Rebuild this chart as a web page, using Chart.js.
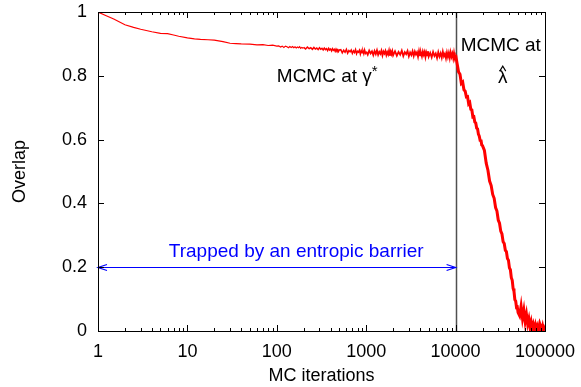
<!DOCTYPE html>
<html>
<head>
<meta charset="utf-8">
<script src="https://cdn.jsdelivr.net/npm/chart.js@4.4.0/dist/chart.umd.min.js"></script>
<style>
  html, body { margin: 0; padding: 0; background: #fff; }
  #wrap { width: 581px; height: 387px; }
</style>
</head>
<body>
<div id="wrap"><canvas id="overlapChart" width="581" height="387"></canvas></div>
<script>
// MC iteration at which each overlap value was read
const iterations = [
  1, 1.2, 1.5, 2, 2.5, 3, 4, 5, 6, 7, 8, 10, 12, 14, 17, 20, 25, 30, 35, 40, 50, 60, 70, 80, 90, 100,
  105, 110, 115, 120, 125, 130, 135, 140, 145, 150, 155, 160, 165, 170, 175, 180, 185, 190, 195, 200,
  210, 220, 230, 240, 250, 260, 270, 280, 290, 300, 310, 320, 330, 340, 350,
  360, 370, 380, 390, 400, 410, 420, 430, 440, 450, 460, 470, 480, 490, 500,
  520, 540, 560, 580, 600, 620, 640, 660, 680, 700, 720, 740, 760, 780, 800,
  820, 840, 860, 880, 900, 920, 940, 960, 980, 1000,
  1040, 1080, 1120, 1160, 1200, 1240, 1280, 1320, 1360, 1400, 1440, 1480, 1520,
  1560, 1600, 1640, 1680, 1720, 1760, 1800, 1840, 1880, 1920, 1960, 2000,
  2100, 2200, 2300, 2400, 2500, 2600, 2700, 2800, 2900, 3000, 3100, 3200, 3300, 3400, 3500,
  3600, 3700, 3800, 3900, 4000, 4100, 4200, 4300, 4400, 4500, 4600, 4700, 4800, 4900, 5000,
  5200, 5400, 5600, 5800, 6000, 6200, 6400, 6600, 6800, 7000, 7200, 7400, 7600,
  7800, 8000, 8200, 8400, 8600, 8800, 9000, 9200, 9400, 9600, 9800, 10000,
  10400, 10800, 11200, 11600, 12000, 12400, 12800, 13200, 13600, 14000, 14400, 14800, 15200,
  15600, 16000, 16400, 16800, 17200, 17600, 18000, 18400, 18800, 19200, 19600, 20000,
  21000, 22000, 23000, 24000, 25000, 26000, 27000, 28000, 29000, 30000, 31000, 32000, 33000, 34000, 35000,
  36000, 37000, 38000, 39000, 40000, 41000, 42000, 43000, 44000, 45000, 46000, 47000, 48000, 49000, 50000,
  52000, 54000, 56000, 58000, 60000, 62000, 64000, 66000, 68000, 70000, 72000, 74000, 76000,
  78000, 80000, 82000, 84000, 86000, 88000, 90000, 92000, 94000, 96000, 98000, 100000
];

const overlap = [
  1.0, 0.990, 0.978, 0.960, 0.952, 0.946, 0.938, 0.933, 0.932, 0.928, 0.924, 0.919, 0.916,
  0.914, 0.913, 0.912, 0.907, 0.902, 0.901, 0.900, 0.899, 0.897, 0.898, 0.895, 0.896, 0.893,
  0.894, 0.890, 0.893, 0.889, 0.893, 0.891, 0.888, 0.892, 0.889, 0.892,
  0.888, 0.891, 0.887, 0.890, 0.888, 0.891, 0.886, 0.889, 0.887, 0.889,
  0.884, 0.890, 0.885, 0.888, 0.883, 0.889, 0.884, 0.887, 0.882, 0.888, 0.883, 0.886, 0.881, 0.887, 0.882,
  0.885, 0.879, 0.886, 0.881, 0.884, 0.878, 0.885, 0.880, 0.883, 0.877, 0.884, 0.879, 0.882, 0.876, 0.881,
  0.882, 0.872, 0.880, 0.874, 0.883, 0.871, 0.879, 0.875, 0.881, 0.870, 0.878, 0.873, 0.882,
  0.869, 0.877, 0.874, 0.880, 0.868, 0.879, 0.872, 0.878, 0.869, 0.881, 0.871, 0.876,
  0.866, 0.879, 0.870, 0.877, 0.865, 0.878, 0.868, 0.880, 0.866, 0.875, 0.869, 0.879, 0.864,
  0.876, 0.870, 0.878, 0.865, 0.874, 0.867, 0.879, 0.863, 0.876, 0.868, 0.877, 0.864,
  0.877, 0.863, 0.875, 0.866, 0.879, 0.862, 0.874, 0.868, 0.878, 0.861, 0.873, 0.865, 0.877, 0.862, 0.876,
  0.867, 0.874, 0.860, 0.878, 0.864, 0.872, 0.861, 0.876, 0.866, 0.875, 0.859, 0.873, 0.864, 0.877, 0.860,
  0.872, 0.858, 0.875, 0.862, 0.870, 0.856, 0.874, 0.860, 0.871, 0.857, 0.876, 0.861, 0.869,
  0.855, 0.873, 0.859, 0.872, 0.856, 0.874, 0.860, 0.870, 0.855, 0.873, 0.858, 0.866,
  0.838, 0.812, 0.805, 0.776, 0.780, 0.756, 0.752, 0.734, 0.735, 0.712, 0.716, 0.695, 0.693,
  0.671, 0.672, 0.655, 0.652, 0.636, 0.634, 0.617, 0.611, 0.598, 0.600, 0.583, 0.581,
  0.566, 0.526, 0.504, 0.470, 0.456, 0.428, 0.416, 0.387, 0.376, 0.348, 0.338, 0.313, 0.304, 0.280, 0.274,
  0.253, 0.249, 0.227, 0.222, 0.198, 0.192, 0.167, 0.159, 0.133, 0.124, 0.098, 0.094, 0.074, 0.075, 0.058,
  0.048, 0.078, 0.040, 0.065, 0.030, 0.052, 0.022, 0.038, 0.012, 0.028, 0.006, 0.020, 0.004,
  0.018, 0.002, 0.014, 0.003, 0.016, 0.001, 0.012, 0.004, 0.015, 0.002, 0.010, 0.005
];

const xTickValues = [1, 10, 100, 1000, 10000, 100000];
const yTickValues = [0, 0.2, 0.4, 0.6, 0.8, 1];

const switchAt = 10000;   // sampler switches from gamma* to lambda-hat
const arrowLevel = 0.2;

const FONT = '"Liberation Sans", Arial, Helvetica, sans-serif';
Chart.defaults.font.family = FONT;
Chart.defaults.color = '#000';

// box, inward ticks on all four sides, log minor ticks
const framePlugin = {
  id: 'frame',
  afterDraw(chart) {
    const { ctx, chartArea: a, scales: { x, y } } = chart;
    ctx.save();
    ctx.strokeStyle = '#000';
    ctx.lineWidth = 1;
    ctx.beginPath();
    xTickValues.forEach(v => {
      const px = Math.round(x.getPixelForValue(v)) + 0.5;
      ctx.moveTo(px, a.bottom); ctx.lineTo(px, a.bottom - 6);
      ctx.moveTo(px, a.top); ctx.lineTo(px, a.top + 6);
    });
    for (let d = 1; d < 100000; d *= 10) {
      for (let m = 2; m < 10; m++) {
        const px = Math.round(x.getPixelForValue(m * d)) + 0.5;
        ctx.moveTo(px, a.bottom); ctx.lineTo(px, a.bottom - 3);
        ctx.moveTo(px, a.top); ctx.lineTo(px, a.top + 3);
      }
    }
    yTickValues.forEach(v => {
      const py = Math.round(y.getPixelForValue(v)) + 0.5;
      ctx.moveTo(a.left, py); ctx.lineTo(a.left + 6, py);
      ctx.moveTo(a.right, py); ctx.lineTo(a.right - 6, py);
    });
    ctx.stroke();
    ctx.strokeRect(Math.round(a.left) + 0.5, Math.round(a.top) + 0.5,
      Math.round(a.right - a.left), Math.round(a.bottom - a.top));
    ctx.restore();
  }
};

const notesPlugin = {
  id: 'notes',
  beforeDatasetsDraw(chart) {
    const { ctx, chartArea: a, scales: { x } } = chart;
    const px = Math.round(x.getPixelForValue(switchAt)) + 0.5;
    ctx.save();
    ctx.strokeStyle = '#505050';
    ctx.lineWidth = 1.5;
    ctx.beginPath();
    ctx.moveTo(px, a.top); ctx.lineTo(px, a.bottom);
    ctx.stroke();
    ctx.restore();
  },
  afterDatasetsDraw(chart) {
    const { ctx, scales: { x, y } } = chart;
    ctx.save();

    // double arrow
    const x0 = x.getPixelForValue(1), x1 = x.getPixelForValue(switchAt);
    const ay = Math.round(y.getPixelForValue(arrowLevel)) + 0.5;
    ctx.strokeStyle = '#0000ff';
    ctx.lineWidth = 1.2;
    ctx.beginPath();
    ctx.moveTo(x0, ay); ctx.lineTo(x1, ay);
    ctx.moveTo(x0 + 9, ay - 3); ctx.lineTo(x0, ay); ctx.lineTo(x0 + 9, ay + 3);
    ctx.moveTo(x1 - 9, ay - 3); ctx.lineTo(x1, ay); ctx.lineTo(x1 - 9, ay + 3);
    ctx.stroke();

    ctx.fillStyle = '#0000ff';
    ctx.font = '19px ' + FONT;
    ctx.textAlign = 'center';
    ctx.textBaseline = 'alphabetic';
    ctx.fillText('Trapped by an entropic barrier', x.getPixelForValue(165), y.getPixelForValue(0.232));

    // MCMC at gamma*
    ctx.fillStyle = '#000';
    ctx.textAlign = 'left';
    const gx = x.getPixelForValue(100), gy = y.getPixelForValue(0.78);
    const label = 'MCMC at γ';
    ctx.fillText(label, gx, gy);
    const w = ctx.measureText(label).width;
    ctx.font = '15px ' + FONT;
    ctx.fillText('*', gx + w, gy - 6);

    // MCMC at lambda-hat
    ctx.font = '19px ' + FONT;
    ctx.textAlign = 'center';
    const lx = x.getPixelForValue(32000);
    ctx.fillText('MCMC at', lx, y.getPixelForValue(0.878));
    const ly = y.getPixelForValue(0.777);
    ctx.fillText('λ', lx + 2, ly);
    ctx.strokeStyle = '#000';
    ctx.lineWidth = 1.1;
    ctx.beginPath();
    ctx.moveTo(lx - 1, ly - 12); ctx.lineTo(lx + 2, ly - 17); ctx.lineTo(lx + 5, ly - 12);
    ctx.stroke();
    ctx.restore();
  }
};

const points = iterations.map((it, i) => ({ x: it, y: overlap[i] }));

// the trace gets denser (so looks heavier) as the iteration count grows
function traceWidth(ctx) {
  const it = ctx.p0.parsed.x;
  if (it >= 10000) return 3;
  if (it >= 1000) return 1.8;
  if (it >= 200) return 1.5;
  return 1.2;
}

new Chart(document.getElementById('overlapChart'), {
  type: 'line',
  data: {
    datasets: [{
      data: points,
      borderColor: '#ff0000',
      borderWidth: 1.2,
      segment: { borderWidth: traceWidth },
      pointRadius: 0,
      tension: 0,
      fill: false
    }]
  },
  options: {
    responsive: false,
    animation: false,
    devicePixelRatio: 1,
    layout: { padding: { left: 0, right: 36, top: 12, bottom: 0 } },
    plugins: { legend: { display: false }, tooltip: { enabled: false } },
    scales: {
      x: {
        type: 'logarithmic',
        min: 1,
        max: 100000,
        afterBuildTicks: s => { s.ticks = xTickValues.map(v => ({ value: v })); },
        afterFit: s => { s.height = 56; s.paddingLeft = 0; s.paddingRight = 0; },
        grid: { display: false, drawTicks: false },
        border: { display: false },
        ticks: {
          callback: v => String(v),
          font: { size: 18 },
          color: '#000',
          padding: 10,
          maxRotation: 0,
          autoSkip: false
        },
        title: { display: true, text: 'MC iterations', font: { size: 18 }, color: '#000', padding: { top: 0, bottom: 0 } }
      },
      y: {
        min: 0,
        max: 1,
        afterBuildTicks: s => { s.ticks = yTickValues.map(v => ({ value: v })); },
        afterFit: s => { s.width = 98; s.paddingTop = 0; s.paddingBottom = 0; },
        grid: { display: false, drawTicks: false },
        border: { display: false },
        ticks: {
          callback: v => String(v),
          font: { size: 18 },
          color: '#000',
          padding: 11
        },
        title: { display: true, text: 'Overlap', font: { size: 18 }, color: '#000', padding: { top: 9, bottom: 0 } }
      }
    }
  },
  plugins: [framePlugin, notesPlugin]
});
</script>
</body>
</html>
